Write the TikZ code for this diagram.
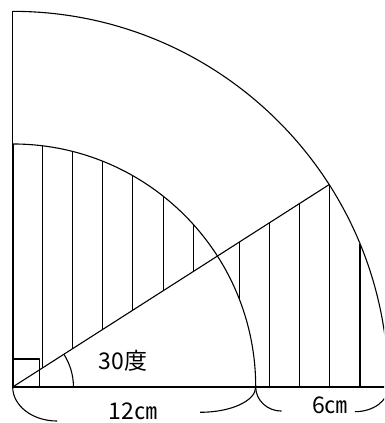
\documentclass[tikz,border=0pt]{standalone}
\usepackage{fontspec}
\setmainfont{Noto Sans CJK JP}
\usetikzlibrary{calc}
\tikzset{
    edge/.style={line width=1.1pt},
    heavy/.style={line width=2pt},
    hatch/.style={line width=1.1pt},
    lbl/.style={font=\fontsize{23}{25}\selectfont, inner sep=0pt}
}

\begin{document}
\begin{tikzpicture}[x=20.25pt, y=20.25pt, line join=round]
    \useasboundingbox (-0.627,-1.778) rectangle (18.336,19.11);
    \clip (-0.627,-1.778) rectangle (18.336,19.11);
    \coordinate (O) at (0,0);
    \coordinate (P) at (12,0);
    \coordinate (Q) at (0,12);
    \coordinate (R) at (18.55,0);
    \coordinate (S) at (0,18.55);
    \coordinate (T) at (32.6:18.55);

    % hatching
    \foreach \x in {1.46,2.95,4.44,5.93,7.43,8.92,11.18}
        \draw[hatch] (\x,{\x*tan(32.6)}) -- (\x,{sqrt(144-\x*\x)});
    \foreach \x in {12.67,14.16,15.65,17.15}
        \draw[hatch] (\x,0) -- (\x,{min(\x*tan(32.6),sqrt(18.55*18.55-\x*\x))});

    \draw[edge] (S) -- (Q);
    \draw[edge] (P) -- (R);
    \draw[heavy] (Q) -- (O) -- (P);
    \draw[edge] (S) arc[start angle=90, end angle=0, radius=18.55];
    \draw[edge] (Q) arc[start angle=90, end angle=0, radius=12];
    \draw[edge] (O) -- (T);
    \draw[edge] (3,0) arc[start angle=0, end angle=32.6, radius=3];
    \draw[edge] (0,1.38) -| (1.33,0);

    % dimension arcs
    \draw[edge] (O) arc[start angle=180, end angle=270, x radius=2.19, y radius=1.68];
    \draw[edge] (P) arc[start angle=0, end angle=-90, x radius=2.75, y radius=1.25];
    \draw[edge] (P) arc[start angle=180, end angle=270, x radius=1.28, y radius=1.19];
    \draw[edge] (R) arc[start angle=0, end angle=-90, x radius=1.65, y radius=1.22];

    \node[lbl] (ang) at (5.45,1.29) {30度};
    \node[lbl] (len12) at (5.94,-1.2) {12㎝};
    \node[lbl] (len6) at (15.67,-0.9) {6㎝};
\end{tikzpicture}
\end{document}
